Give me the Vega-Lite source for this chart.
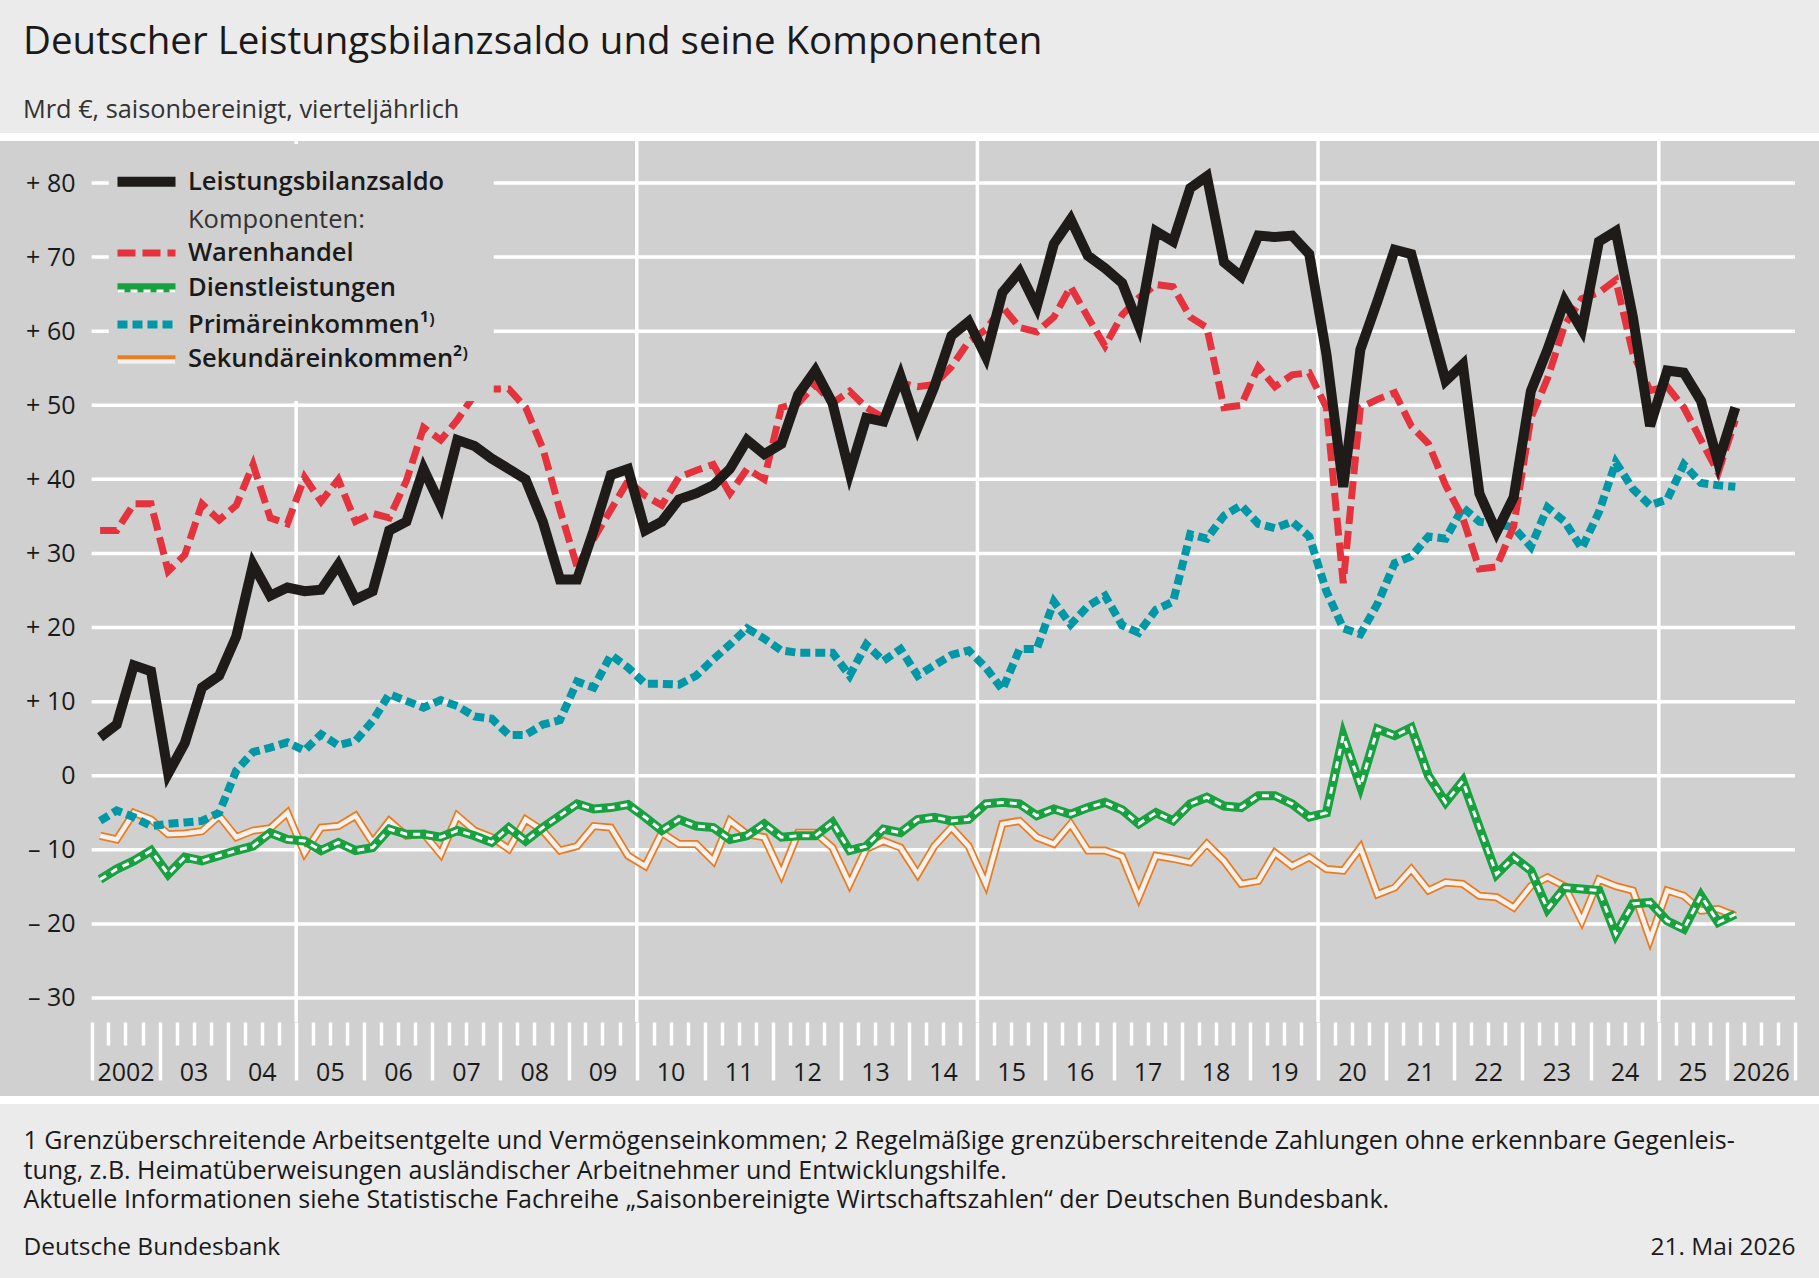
{
"$schema":"https://vega.github.io/schema/vega-lite/v6.json",
"width":1835,"height":963,"autosize":"none",
"padding":{"left":-8,"right":-8,"top":137,"bottom":178},
"background":"#ebebeb",
"config":{"font":"Open Sans","view":{"fill":"#d0d0d0","stroke":"white","strokeWidth":8}},
"title":{"text":"Deutscher Leistungsbilanzsaldo und seine Komponenten","subtitle":"Mrd €, saisonbereinigt, vierteljährlich","anchor":"start","frame":"group","dx":31,"offset":11,"fontSize":38.5,"fontWeight":500,"color":"#1a1a1a","subtitleFontSize":25.3,"subtitleColor":"#333333","subtitlePadding":35},
"datasets":{
"gy":[{"y":-30},{"y":-20},{"y":-10},{"y":0},{"y":10},{"y":20},{"y":30},{"y":40},{"y":50},{"y":60},{"y":70},{"y":80}],
"gx":[{"x":"2005-01-01"},{"x":"2010-01-01"},{"x":"2015-01-01"},{"x":"2020-01-01"},{"x":"2025-01-01"}],
"q":[
{"t":"2002-02-15","L":5.2,"W":33.1,"D":-14.0,"P":-6.1,"S":-8.1},
{"t":"2002-05-15","L":6.9,"W":33.1,"D":-12.6,"P":-4.7,"S":-8.6},
{"t":"2002-08-15","L":14.9,"W":36.7,"D":-11.5,"P":-5.6,"S":-5.0},
{"t":"2002-11-15","L":14.1,"W":36.7,"D":-10.1,"P":-6.8,"S":-5.9},
{"t":"2003-02-15","L":0.3,"W":27.6,"D":-13.3,"P":-6.5,"S":-7.9},
{"t":"2003-05-15","L":4.4,"W":29.8,"D":-11.0,"P":-6.3,"S":-7.8},
{"t":"2003-08-15","L":11.9,"W":36.7,"D":-11.5,"P":-6.1,"S":-7.5},
{"t":"2003-11-15","L":13.5,"W":34.5,"D":-10.8,"P":-5.0,"S":-5.4},
{"t":"2004-02-15","L":18.8,"W":36.5,"D":-10.1,"P":0.7,"S":-8.3},
{"t":"2004-05-15","L":28.5,"W":42.0,"D":-9.5,"P":3.2,"S":-7.4},
{"t":"2004-08-15","L":24.3,"W":34.8,"D":-7.7,"P":3.8,"S":-7.1},
{"t":"2004-11-15","L":25.4,"W":34.0,"D":-8.6,"P":4.5,"S":-5.0},
{"t":"2005-02-15","L":24.9,"W":40.3,"D":-8.8,"P":3.4,"S":-10.4},
{"t":"2005-05-15","L":25.1,"W":37.0,"D":-10.1,"P":5.6,"S":-7.0},
{"t":"2005-08-15","L":28.5,"W":40.0,"D":-9.0,"P":4.1,"S":-6.8},
{"t":"2005-11-15","L":23.8,"W":34.3,"D":-10.1,"P":4.7,"S":-5.4},
{"t":"2006-02-15","L":24.9,"W":35.4,"D":-9.7,"P":7.4,"S":-9.0},
{"t":"2006-05-15","L":33.1,"W":34.8,"D":-7.2,"P":11.0,"S":-6.1},
{"t":"2006-08-15","L":34.3,"W":39.8,"D":-7.9,"P":10.1,"S":-8.1},
{"t":"2006-11-15","L":41.4,"W":47.0,"D":-7.9,"P":9.2,"S":-7.8},
{"t":"2007-02-15","L":36.5,"W":45.3,"D":-8.3,"P":10.2,"S":-10.6},
{"t":"2007-05-15","L":45.3,"W":48.0,"D":-7.4,"P":9.4,"S":-5.4},
{"t":"2007-08-15","L":44.5,"W":51.4,"D":-8.1,"P":8.0,"S":-7.4},
{"t":"2007-11-15","L":42.8,"W":52.2,"D":-9.0,"P":7.7,"S":-8.3},
{"t":"2008-02-15","L":41.4,"W":52.2,"D":-7.0,"P":5.5,"S":-9.9},
{"t":"2008-05-15","L":40.0,"W":49.7,"D":-8.8,"P":5.5,"S":-5.9},
{"t":"2008-08-15","L":34.3,"W":44.2,"D":-7.0,"P":6.9,"S":-7.4},
{"t":"2008-11-15","L":26.5,"W":35.9,"D":-5.4,"P":7.5,"S":-10.1},
{"t":"2009-02-15","L":26.5,"W":28.2,"D":-3.8,"P":12.7,"S":-9.5},
{"t":"2009-05-15","L":33.1,"W":32.0,"D":-4.5,"P":11.9,"S":-6.8},
{"t":"2009-08-15","L":40.6,"W":35.9,"D":-4.3,"P":16.3,"S":-7.0},
{"t":"2009-11-15","L":41.4,"W":39.8,"D":-3.9,"P":14.6,"S":-10.8},
{"t":"2010-02-15","L":33.1,"W":37.8,"D":-5.6,"P":12.4,"S":-12.2},
{"t":"2010-05-15","L":34.3,"W":36.5,"D":-7.4,"P":12.4,"S":-7.7},
{"t":"2010-08-15","L":37.3,"W":40.3,"D":-5.9,"P":12.3,"S":-9.2},
{"t":"2010-11-15","L":38.1,"W":41.2,"D":-6.8,"P":13.5,"S":-9.2},
{"t":"2011-02-15","L":39.2,"W":42.0,"D":-7.0,"P":15.7,"S":-11.5},
{"t":"2011-05-15","L":41.4,"W":38.1,"D":-8.6,"P":17.7,"S":-6.1},
{"t":"2011-08-15","L":45.3,"W":41.4,"D":-8.1,"P":19.9,"S":-7.9},
{"t":"2011-11-15","L":43.4,"W":40.0,"D":-6.5,"P":18.5,"S":-8.3},
{"t":"2012-02-15","L":44.8,"W":49.7,"D":-8.3,"P":16.9,"S":-13.3},
{"t":"2012-05-15","L":51.4,"W":50.3,"D":-8.1,"P":16.6,"S":-7.7},
{"t":"2012-08-15","L":54.7,"W":52.8,"D":-8.1,"P":16.6,"S":-7.7},
{"t":"2012-11-15","L":50.3,"W":50.3,"D":-6.3,"P":16.6,"S":-9.7},
{"t":"2013-02-15","L":40.9,"W":51.9,"D":-10.1,"P":13.5,"S":-14.6},
{"t":"2013-05-15","L":48.3,"W":49.7,"D":-9.5,"P":17.7,"S":-9.9},
{"t":"2013-08-15","L":47.8,"W":48.3,"D":-7.2,"P":15.5,"S":-8.8},
{"t":"2013-11-15","L":53.9,"W":53.0,"D":-7.7,"P":17.1,"S":-9.7},
{"t":"2014-02-15","L":47.0,"W":52.5,"D":-5.9,"P":13.5,"S":-13.3},
{"t":"2014-05-15","L":52.5,"W":52.8,"D":-5.6,"P":14.9,"S":-9.5},
{"t":"2014-08-15","L":59.4,"W":55.2,"D":-6.1,"P":16.3,"S":-7.0},
{"t":"2014-11-15","L":61.3,"W":58.6,"D":-5.9,"P":16.9,"S":-9.5},
{"t":"2015-02-15","L":56.6,"W":60.2,"D":-3.8,"P":14.6,"S":-14.6},
{"t":"2015-05-15","L":65.2,"W":63.3,"D":-3.6,"P":11.6,"S":-6.5},
{"t":"2015-08-15","L":68.0,"W":60.5,"D":-3.8,"P":17.1,"S":-6.1},
{"t":"2015-11-15","L":63.3,"W":59.9,"D":-5.4,"P":17.1,"S":-8.3},
{"t":"2016-02-15","L":71.8,"W":61.9,"D":-4.5,"P":23.5,"S":-9.2},
{"t":"2016-05-15","L":75.1,"W":66.0,"D":-5.2,"P":20.4,"S":-6.5},
{"t":"2016-08-15","L":70.2,"W":61.9,"D":-4.3,"P":22.9,"S":-10.1},
{"t":"2016-11-15","L":68.5,"W":58.0,"D":-3.6,"P":24.3,"S":-10.1},
{"t":"2017-02-15","L":66.5,"W":62.2,"D":-4.6,"P":20.3,"S":-10.9},
{"t":"2017-05-15","L":60.8,"W":64.5,"D":-6.5,"P":19.3,"S":-16.4},
{"t":"2017-08-15","L":73.5,"W":66.3,"D":-5.0,"P":22.4,"S":-10.8},
{"t":"2017-11-15","L":72.1,"W":66.0,"D":-6.1,"P":23.5,"S":-11.2},
{"t":"2018-02-15","L":79.3,"W":61.9,"D":-3.8,"P":32.6,"S":-11.7},
{"t":"2018-05-15","L":80.9,"W":60.5,"D":-2.9,"P":32.0,"S":-9.2},
{"t":"2018-08-15","L":69.3,"W":49.7,"D":-4.1,"P":35.1,"S":-11.5},
{"t":"2018-11-15","L":67.4,"W":50.0,"D":-4.3,"P":36.5,"S":-14.6},
{"t":"2019-02-15","L":72.9,"W":55.2,"D":-2.7,"P":34.0,"S":-14.2},
{"t":"2019-05-15","L":72.7,"W":52.5,"D":-2.7,"P":33.4,"S":-10.4},
{"t":"2019-08-15","L":72.9,"W":54.1,"D":-3.8,"P":34.3,"S":-12.2},
{"t":"2019-11-15","L":70.4,"W":54.4,"D":-5.6,"P":32.3,"S":-11.0},
{"t":"2020-02-15","L":56.9,"W":49.7,"D":-5.0,"P":24.9,"S":-12.6},
{"t":"2020-05-15","L":39.0,"W":26.0,"D":5.4,"P":19.9,"S":-12.8},
{"t":"2020-08-15","L":57.5,"W":49.7,"D":-1.4,"P":19.1,"S":-9.7},
{"t":"2020-11-15","L":64.1,"W":50.8,"D":6.3,"P":23.2,"S":-16.0},
{"t":"2021-02-15","L":71.0,"W":51.7,"D":5.4,"P":28.7,"S":-15.1},
{"t":"2021-05-15","L":70.4,"W":47.2,"D":6.5,"P":29.6,"S":-12.6},
{"t":"2021-08-15","L":61.9,"W":44.8,"D":0.0,"P":32.3,"S":-15.5},
{"t":"2021-11-15","L":53.3,"W":39.2,"D":-3.6,"P":32.0,"S":-14.4},
{"t":"2022-02-15","L":55.5,"W":34.8,"D":-0.7,"P":36.2,"S":-14.6},
{"t":"2022-05-15","L":38.1,"W":27.9,"D":-7.0,"P":34.3,"S":-16.2},
{"t":"2022-08-15","L":32.9,"W":28.2,"D":-13.3,"P":34.0,"S":-16.4},
{"t":"2022-11-15","L":37.6,"W":33.7,"D":-11.0,"P":33.5,"S":-17.8},
{"t":"2023-02-15","L":51.9,"W":48.3,"D":-12.8,"P":30.9,"S":-14.9},
{"t":"2023-05-15","L":57.5,"W":53.6,"D":-18.0,"P":36.2,"S":-13.7},
{"t":"2023-08-15","L":64.1,"W":60.8,"D":-15.1,"P":34.3,"S":-14.9},
{"t":"2023-11-15","L":60.2,"W":64.4,"D":-15.3,"P":30.7,"S":-19.6},
{"t":"2024-02-15","L":72.1,"W":65.2,"D":-15.5,"P":35.6,"S":-14.0},
{"t":"2024-05-15","L":73.5,"W":66.9,"D":-21.4,"P":42.3,"S":-14.9},
{"t":"2024-08-15","L":61.9,"W":57.0,"D":-17.3,"P":38.7,"S":-15.5},
{"t":"2024-11-15","L":47.2,"W":52.0,"D":-17.1,"P":36.5,"S":-22.1},
{"t":"2025-02-15","L":54.7,"W":52.5,"D":-19.6,"P":37.3,"S":-15.5},
{"t":"2025-05-15","L":54.4,"W":49.7,"D":-20.7,"P":42.0,"S":-16.2},
{"t":"2025-08-15","L":50.6,"W":45.3,"D":-16.2,"P":39.5,"S":-18.2},
{"t":"2025-11-15","L":42.3,"W":40.9,"D":-19.8,"P":39.2,"S":-18.0},
{"t":"2026-02-15","L":49.7,"W":48.0,"D":-18.7,"P":39.0,"S":-18.9}
]},
"data":{"name":"q"},
"resolve":{"axis":{"x":"independent","y":"independent"}},
"layer":[
{"data":{"name":"gy"},
 "mark":{"type":"rule","stroke":"white","strokeWidth":3.5},
 "encoding":{
  "y":{"field":"y","type":"quantitative","scale":{"domain":[-43.77,86.21],"nice":false,"zero":false},
   "axis":{"orient":"left","offset":-88,"values":[-30,-20,-10,0,10,20,30,40,50,60,70,80],"labelExpr":"datum.value > 0 ? '+ ' + datum.value : (datum.value < 0 ? '– ' + abs(datum.value) : '0')","domain":false,"ticks":false,"grid":false,"labelPadding":5,"labelFontSize":25,"labelColor":"#1a1a1a","labelBaseline":"middle","title":"Deutsche Bundesbank","titleAngle":0,"titleX":-57,"titleY":1117,"titleAlign":"left","titleBaseline":"alphabetic","titleFontSize":24.5,"titleFontWeight":"normal","titleColor":"#1a1a1a"}},
  "x":{"datum":1009843200000,"type":"temporal","scale":{"type":"utc","domain":[963662400000,1813579200000],"nice":false},
   "axis":{"orient":"bottom","offset":-78,"tickCount":{"interval":"month","step":3},"domain":false,"grid":false,"ticks":true,"tickColor":"white","tickWidth":3.5,
    "tickSize":{"condition":{"test":"utcmonth(datum.value) === 0","value":58},"value":23},
    "tickOpacity":{"condition":{"test":"datum.value < 1009843200000 || datum.value > 1798761600000","value":0},"value":1},
    "labelExpr":"utcmonth(datum.value) === 6 && utcyear(datum.value) >= 2002 && utcyear(datum.value) <= 2026 ? ((utcyear(datum.value) === 2002 || utcyear(datum.value) === 2026) ? utcFormat(datum.value, '%Y') : utcFormat(datum.value, '%y')) : ''",
    "labelAlign":"center","labelBaseline":"alphabetic","labelPadding":35,"labelFontSize":25,"labelColor":"#1a1a1a","labelOverlap":false,"labelFlush":false,"labelBound":false,
    "title":["1 Grenzüberschreitende Arbeitsentgelte und Vermögenseinkommen; 2 Regelmäßige grenzüberschreitende Zahlungen ohne erkennbare Gegenleis-","tung, z.B. Heimatüberweisungen ausländischer Arbeitnehmer und Entwicklungshilfe.","Aktuelle Informationen siehe Statistische Fachreihe „Saisonbereinigte Wirtschaftszahlen“ der Deutschen Bundesbank."],
    "titleX":31,"titleY":126.5,"titleAlign":"left","titleBaseline":"alphabetic","titleFontSize":25,"titleFontWeight":"normal","titleColor":"#1a1a1a","titleLineHeight":29.5,"titleLimit":3000}},
  "x2":{"datum":1798761600000}
 }},
{"data":{"name":"gx"},
 "mark":{"type":"rule","stroke":"white","strokeWidth":3.5},
 "encoding":{
  "x":{"field":"x","type":"temporal","axis":null},
  "y":{"datum":-33.24,"type":"quantitative","axis":{"orient":"right","labels":false,"ticks":false,"domain":false,"grid":false,"title":"21. Mai 2026","titleAngle":0,"titleX":-32,"titleY":1117,"titleAlign":"right","titleBaseline":"alphabetic","titleFontSize":24.5,"titleFontWeight":"normal","titleColor":"#1a1a1a"}},
  "y2":{"datum":86.21}
 }},
{"transform":[{"fold":["L","W","D","P","S"],"as":["s","v"]},{"filter":"datum.s === 'S'"}],
 "mark":{"type":"line","strokeWidth":8},
 "encoding":{"x":{"field":"t","type":"temporal","axis":null},"y":{"field":"v","type":"quantitative","axis":null},
  "color":{"field":"s","type":"nominal","scale":{"domain":["L","K","W","D","P","S"],"range":["#1e1b18","rgba(0,0,0,0)","#e4333c","#17a13f","#0097a7","#ee7b1b"]},
   "legend":{"orient":"none","legendX":116.75,"legendY":6.95,"title":null,"padding":25,"fillColor":"#d0d0d0","symbolType":"M-9.67,0H9.67","symbolSize":36,"labelFontSize":25.5,"labelOffset":28.75,"rowPadding":1.7,"labelLimit":600,"labelColor":"#1a1a1a",
    "labelExpr":"{'L':'Leistungsbilanzsaldo','K':'Komponenten:','W':'Warenhandel','D':'Dienstleistungen','P':'Primäreinkommen¹⁾','S':'Sekundäreinkommen²⁾','z':''}[datum.value]",
    "encode":{"symbols":{"update":{"strokeWidth":{"signal":"datum.value === 'L' ? 10 : datum.value === 'W' ? 7 : datum.value === 'D' ? 9 : 8"},
      "strokeDash":{"signal":"datum.value === 'W' ? [18,7] : datum.value === 'P' ? [10,5] : [1,0]"}}},
     "labels":{"update":{"fontWeight":{"signal":"datum.value === 'K' ? 400 : 600"},"fill":{"signal":"datum.value === 'K' ? '#333333' : '#1a1a1a'"}}}}}}}},
{"transform":[{"fold":["L","W","D","P","S"],"as":["s","v"]},{"filter":"datum.s === 'S'"}],
 "mark":{"type":"line","strokeWidth":4.5},
 "encoding":{"x":{"field":"t","type":"temporal","axis":null},"y":{"field":"v","type":"quantitative","axis":null},
  "stroke":{"field":"s","type":"nominal","scale":{"domain":["L","K","W","D","P","S","z"],"range":["rgba(0,0,0,0)","rgba(0,0,0,0)","rgba(0,0,0,0)","#ffffff","rgba(0,0,0,0)","#f2f2f2","rgba(0,0,0,0)"]},
   "legend":{"orient":"none","legendX":116.75,"legendY":10.25,"title":null,"padding":25,"symbolType":"M-9.67,0H9.67","symbolSize":36,"labelFontSize":25.5,"labelOffset":361,"rowPadding":8.3,"labelLimit":600,"labelOpacity":0,
    "labelExpr":"{'L':'Leistungsbilanzsaldo','K':'Komponenten:','W':'Warenhandel','D':'Dienstleistungen','P':'Primäreinkommen¹⁾','S':'Sekundäreinkommen²⁾','z':''}[datum.value]",
    "encode":{"symbols":{"update":{"strokeWidth":{"signal":"datum.value === 'D' ? 3 : 4.5"},"strokeDash":{"signal":"datum.value === 'D' ? [7,6] : [1,0]"}}},
     "labels":{"update":{"fontWeight":{"signal":"datum.value === 'K' ? 400 : 600"}}}}}}}},
{"transform":[{"fold":["L","W","D","P","S"],"as":["s","v"]},{"filter":"datum.s === 'D'"}],
 "mark":{"type":"line","strokeWidth":9},
 "encoding":{"x":{"field":"t","type":"temporal","axis":null},"y":{"field":"v","type":"quantitative","axis":null},"color":{"field":"s","type":"nominal"}}},
{"transform":[{"fold":["L","W","D","P","S"],"as":["s","v"]},{"filter":"datum.s === 'D'"}],
 "mark":{"type":"line","strokeWidth":3,"strokeDash":[7,6]},
 "encoding":{"x":{"field":"t","type":"temporal","axis":null},"y":{"field":"v","type":"quantitative","axis":null},"stroke":{"field":"s","type":"nominal"}}},
{"transform":[{"fold":["L","W","D","P","S"],"as":["s","v"]},{"filter":"datum.s === 'P'"}],
 "mark":{"type":"line","strokeWidth":8,"strokeDash":[10,5]},
 "encoding":{"x":{"field":"t","type":"temporal","axis":null},"y":{"field":"v","type":"quantitative","axis":null},"color":{"field":"s","type":"nominal"}}},
{"transform":[{"fold":["L","W","D","P","S"],"as":["s","v"]},{"filter":"datum.s === 'W'"}],
 "mark":{"type":"line","strokeWidth":7,"strokeDash":[18,7]},
 "encoding":{"x":{"field":"t","type":"temporal","axis":null},"y":{"field":"v","type":"quantitative","axis":null},"color":{"field":"s","type":"nominal"}}},
{"transform":[{"fold":["L","W","D","P","S"],"as":["s","v"]},{"filter":"datum.s === 'L'"}],
 "mark":{"type":"line","strokeWidth":10},
 "encoding":{"x":{"field":"t","type":"temporal","axis":null},"y":{"field":"v","type":"quantitative","axis":null},"color":{"field":"s","type":"nominal"}}}
]
}
